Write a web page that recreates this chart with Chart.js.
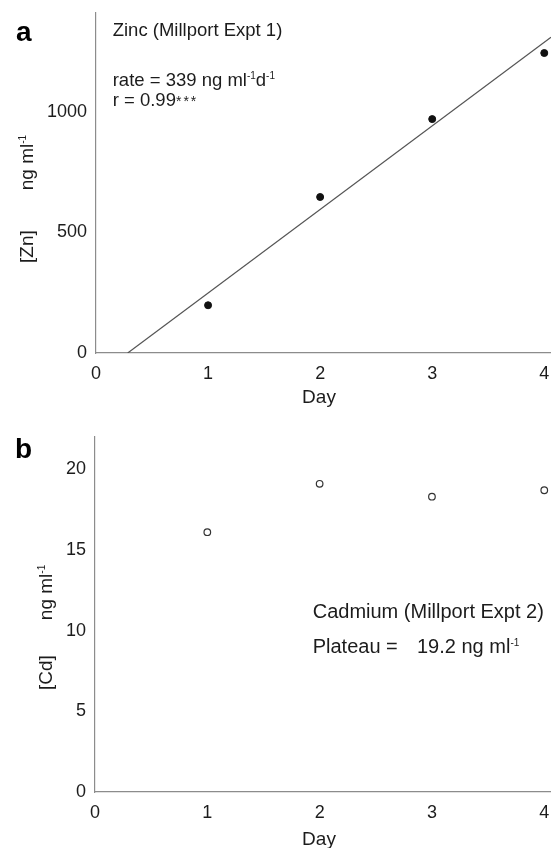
<!DOCTYPE html>
<html>
<head>
<meta charset="utf-8">
<script src="https://cdn.jsdelivr.net/npm/chart.js@4"></script>
<style>
  html, body { margin: 0; padding: 0; background: #fff; }
  #wrap { position: relative; width: 551px; height: 848px; }
  canvas { position: absolute; left: 0; }
  #zn { top: 0; }
  #cd { top: 420px; }
</style>
</head>
<body>
<div id="wrap">
  <canvas id="zn" width="551" height="420"></canvas>
  <canvas id="cd" width="551" height="428"></canvas>
</div>
<script>
// data
const days = [1, 2, 3, 4];
const zinc = [198, 647, 970, 1244];          // ng ml-1
const cadmium = [16.1, 19.1, 18.3, 18.7];    // ng ml-1
const zincFitDays = [0.283, 4.06];           // regression line ends
const zincFit = [0, 1309];
const dayTicks = [0, 1, 2, 3, 4];
const zincTicks = [0, 500, 1000];
const cdTicks = [0, 5, 10, 15, 20];

const FONT = "'Liberation Sans', Arial, sans-serif";
const INK = '#1c1c1c';
const AXIS = '#8c8c8c';

const pts = (xs, ys) => xs.map((x, i) => ({ x: x, y: ys[i] }));

// draws a line of text with superscripts: runs = [{t, sup}, {gap}]
function drawRuns(ctx, x, y, runs, size) {
  ctx.textAlign = 'left';
  ctx.textBaseline = 'alphabetic';
  let cx = x;
  runs.forEach(r => {
    if (r.gap) { cx += r.gap; return; }
    const fs = r.sup ? 10 : (r.size || size);
    ctx.font = fs + 'px ' + FONT;
    ctx.letterSpacing = r.spacing || '0px';
    ctx.fillText(r.t, cx, y - (r.sup ? 7 : 0));
    cx += ctx.measureText(r.t).width;
  });
  ctx.letterSpacing = '0px';
}

function drawVertical(ctx, x, y, runs, size) {
  ctx.save();
  ctx.translate(x, y);
  ctx.rotate(-Math.PI / 2);
  drawRuns(ctx, 0, 0, runs, size);
  ctx.restore();
}

const labelsPlugin = {
  id: 'labels',
  afterDraw(chart, args, opts) {
    const ctx = chart.ctx;
    ctx.save();
    ctx.fillStyle = INK;
    opts.draw(ctx);
    ctx.restore();
  }
};

function fitX(s) { s.height = s.options.boxHeight; s.paddingLeft = 0; s.paddingRight = 0; }
function fitY(s) { s.width = s.options.boxWidth; s.paddingTop = 0; s.paddingBottom = 0; }

function axes(yTicks, yMax, xBoxH, yBoxW) {
  const tickFont = { family: FONT, size: 18 };
  return {
    x: {
      type: 'linear', min: 0, max: 4.06,
      boxHeight: xBoxH,
      afterFit: fitX,
      afterBuildTicks: s => { s.ticks = dayTicks.map(v => ({ value: v })); },
      grid: { display: false, drawTicks: false },
      border: { display: true, color: AXIS, width: 1.2 },
      ticks: { padding: 10, color: INK, font: tickFont, callback: v => String(v) }
    },
    y: {
      type: 'linear', min: 0, max: yMax,
      boxWidth: yBoxW,
      afterFit: fitY,
      afterBuildTicks: s => { s.ticks = yTicks.map(v => ({ value: v })); },
      grid: { display: false, drawTicks: false },
      border: { display: true, color: AXIS, width: 1.2 },
      ticks: { padding: 9, color: INK, font: tickFont, callback: v => String(v) }
    }
  };
}

new Chart(document.getElementById('zn'), {
  type: 'scatter',
  data: {
    datasets: [
      {
        data: pts(days, zinc),
        pointRadius: 3.5,
        pointBackgroundColor: '#111',
        pointBorderColor: '#111'
      },
      {
        type: 'line',
        data: pts(zincFitDays, zincFit),
        borderColor: '#555',
        borderWidth: 1.2,
        pointRadius: 0
      }
    ]
  },
  options: {
    responsive: false,
    animation: false,
    layout: { autoPadding: false, padding: { top: 13, left: 0, right: 0, bottom: 0 } },
    scales: axes(zincTicks, 1410, 67, 96),
    plugins: {
      legend: { display: false },
      tooltip: { enabled: false },
      labels: {
        draw(ctx) {
          ctx.font = 'bold 28px ' + FONT;
          ctx.fillStyle = '#000';
          ctx.fillText('a', 16, 41);
          ctx.fillStyle = INK;
          drawRuns(ctx, 112.7, 36, [{ t: 'Zinc (Millport Expt 1)' }], 18.5);
          drawRuns(ctx, 112.7, 86, [{ t: 'rate = 339 ng ml' }, { t: '-1', sup: true },
            { t: 'd' }, { t: '-1', sup: true }], 18.5);
          drawRuns(ctx, 112.7, 106, [{ t: 'r = 0.99' }, { t: '***', size: 14, spacing: '2px' }], 18.5);
          ctx.font = '19px ' + FONT;
          ctx.textAlign = 'center';
          ctx.fillText('Day', 319, 403);
          drawVertical(ctx, 33, 263, [{ t: '[Zn]' }, { gap: 40 }, { t: 'ng ml' }, { t: '-1', sup: true }], 19);
        }
      }
    }
  },
  plugins: [labelsPlugin]
});

new Chart(document.getElementById('cd'), {
  type: 'scatter',
  data: {
    datasets: [
      {
        data: pts(days, cadmium),
        pointRadius: 3.3,
        pointBorderWidth: 1.2,
        pointBackgroundColor: '#fff',
        pointBorderColor: '#333'
      }
    ]
  },
  options: {
    responsive: false,
    animation: false,
    layout: { autoPadding: false, padding: { top: 17, left: 0, right: 0, bottom: 0 } },
    scales: axes(cdTicks, 22, 56, 95),
    plugins: {
      legend: { display: false },
      tooltip: { enabled: false },
      labels: {
        draw(ctx) {
          ctx.font = 'bold 28px ' + FONT;
          ctx.fillStyle = '#000';
          ctx.fillText('b', 15, 38);
          ctx.fillStyle = INK;
          drawRuns(ctx, 312.7, 198, [{ t: 'Cadmium (Millport Expt 2)' }], 20);
          drawRuns(ctx, 312.7, 233, [{ t: 'Plateau =' }], 20);
          drawRuns(ctx, 417, 233, [{ t: '19.2 ng ml' }, { t: '-1', sup: true }], 20);
          ctx.font = '19px ' + FONT;
          ctx.textAlign = 'center';
          ctx.fillText('Day', 319, 425);
          drawVertical(ctx, 52, 270, [{ t: '[Cd]' }, { gap: 35 }, { t: 'ng ml' }, { t: '-1', sup: true }], 19);
        }
      }
    }
  },
  plugins: [labelsPlugin]
});
</script>
</body>
</html>
